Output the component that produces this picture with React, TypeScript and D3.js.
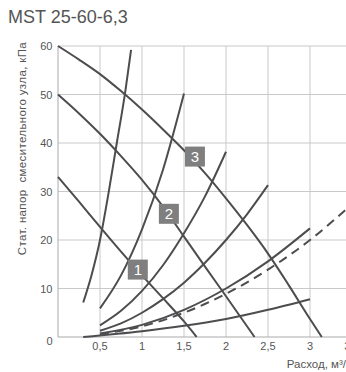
import React from 'react';
import * as d3 from 'd3';

const title = 'MST 25-60-6,3';
const yLabel = 'Стат. напор  смесительного узла, кПа';
const xLabel = 'Расход, м³/ч';

const xTicks = [0.5, 1, 1.5, 2, 2.5, 3, 3.5];
const xTickLabels = ['0,5', '1', '1,5', '2', '2,5', '3', '3,5'];
const yTicks = [0, 10, 20, 30, 40, 50, 60];

// pump curves (falling)
const pump1: [number, number][] = [[0, 33], [0.25, 27.9], [0.5, 22.7], [0.75, 17.6], [1.0, 12.7], [1.25, 8.0], [1.5, 3.2], [1.65, 0]];
const pump2: [number, number][] = [[0, 50], [0.25, 46.1], [0.5, 41.9], [0.75, 37.3], [1.0, 32.4], [1.25, 26.9], [1.5, 20.7], [1.75, 14.5], [2.0, 8.4], [2.34, 0]];
const pump3: [number, number][] = [[0, 60], [0.25, 57.2], [0.5, 54.2], [0.75, 50.7], [1.0, 46.9], [1.25, 42.8], [1.5, 38.5], [1.75, 33.8], [2.0, 28.6], [2.25, 23.1], [2.5, 17.2], [2.75, 10.6], [3.0, 3.7], [3.14, 0]];

// system curves (rising)
const sys1: [number, number][] = [[0.3, 7.1], [0.4, 12.8], [0.5, 20], [0.6, 29.5], [0.7, 40], [0.8, 50.5], [0.87, 59.2]];
const sys2: [number, number][] = [[0.5, 5.9], [0.75, 12.7], [1.0, 22.2], [1.25, 34.5], [1.5, 50.2]];
const sys3: [number, number][] = [[0.5, 2.4], [0.75, 5.4], [1.0, 9.5], [1.25, 14.8], [1.5, 21.4], [1.75, 29], [2.0, 38.2]];
const sys4: [number, number][] = [[0.5, 1.3], [0.75, 2.8], [1.0, 5.0], [1.25, 7.8], [1.5, 11.2], [1.75, 15.3], [2.0, 20], [2.25, 25.3], [2.5, 31.3]];
const sys5: [number, number][] = [[0.5, 0.7], [1.0, 2.5], [1.5, 5.6], [2.0, 10], [2.5, 15.6], [3.0, 22.4]];
const sysDashed: [number, number][] = [[0.5, 0.6], [1.0, 2.2], [1.5, 5.0], [2.0, 8.9], [2.5, 13.9], [3.0, 20], [3.5, 27.4]];
const sys6: [number, number][] = [[0.3, 0], [1.0, 1.2], [1.5, 2.3], [2.0, 3.7], [2.5, 5.6], [3.0, 7.8]];

const pumpLabels = [
  { id: '1', x: 0.95, y: 13.9 },
  { id: '2', x: 1.32, y: 25.4 },
  { id: '3', x: 1.63, y: 37.2 },
];

const W = 346;
const H = 372;
const FONT = '"Liberation Sans", Arial, sans-serif';

export default function App() {
  const x = d3.scaleLinear().domain([0, 3.5]).range([58, 352]);
  const y = d3.scaleLinear().domain([0, 60]).range([337, 46]);
  const line = d3
    .line<[number, number]>()
    .x((d) => x(d[0]))
    .y((d) => y(d[1]))
    .curve(d3.curveMonotoneX);

  const solid = [pump1, pump2, pump3, sys1, sys2, sys3, sys4, sys5, sys6];
  const lineColor = '#4d4d50';
  const gridColor = '#c9c9c9';
  const textColor = '#555';

  return (
    <svg
      width={W}
      height={H}
      style={{ position: 'absolute', left: 0, top: 0, background: '#fff' }}
      fontFamily={FONT}
    >
      <text x={8} y={23} fontSize={18} fill={textColor}>
        {title}
      </text>
      {/* grid */}
      {yTicks.filter((t) => t > 0).map((t) => (
        <line key={'gy' + t} x1={x(0)} x2={x(3.5)} y1={y(t)} y2={y(t)} stroke={gridColor} strokeWidth={1} />
      ))}
      {xTicks.map((t) => (
        <line key={'gx' + t} x1={x(t)} x2={x(t)} y1={y(0)} y2={y(60)} stroke={gridColor} strokeWidth={1} />
      ))}
      {/* axes */}
      <line x1={x(0)} x2={x(0)} y1={y(0)} y2={y(60)} stroke="#aaa" strokeWidth={1} />
      <line x1={x(0)} x2={x(3.5)} y1={y(0)} y2={y(0)} stroke="#aaa" strokeWidth={1} />
      {/* y tick labels */}
      {yTicks.map((t) => (
        <text key={'ty' + t} x={52.5} y={y(t) + (t === 0 ? 8 : 4)} fontSize={11} fill={textColor} textAnchor="end">
          {t}
        </text>
      ))}
      {/* x tick labels */}
      {xTicks.map((t, i) => (
        <text key={'tx' + t} x={x(t)} y={350} fontSize={11} fill={textColor} textAnchor="middle">
          {xTickLabels[i]}
        </text>
      ))}
      <text
        transform={`translate(25.5,42) rotate(-90)`}
        fontSize={11.5}
        letterSpacing={0.35}
        fill={textColor}
        textAnchor="end"
        style={{ whiteSpace: 'pre' }}
      >
        {yLabel}
      </text>
      <text x={x(3.5)} y={368} fontSize={11.5} fill={textColor} textAnchor="end">
        {xLabel}
      </text>
      {/* curves */}
      {solid.map((s, i) => (
        <path key={'c' + i} d={line(s) || ''} fill="none" stroke={lineColor} strokeWidth={2} />
      ))}
      <path d={line(sysDashed) || ''} fill="none" stroke={lineColor} strokeWidth={2} strokeDasharray="9,6" />
      {/* labels */}
      {pumpLabels.map((l) => (
        <g key={'l' + l.id} transform={`translate(${x(l.x)},${y(l.y)})`}>
          <rect x={-10} y={-10} width={20} height={20} fill="#7f7f7f" />
          <text x={0} y={5} fontSize={15} fill="#fff" textAnchor="middle">
            {l.id}
          </text>
        </g>
      ))}
    </svg>
  );
}
